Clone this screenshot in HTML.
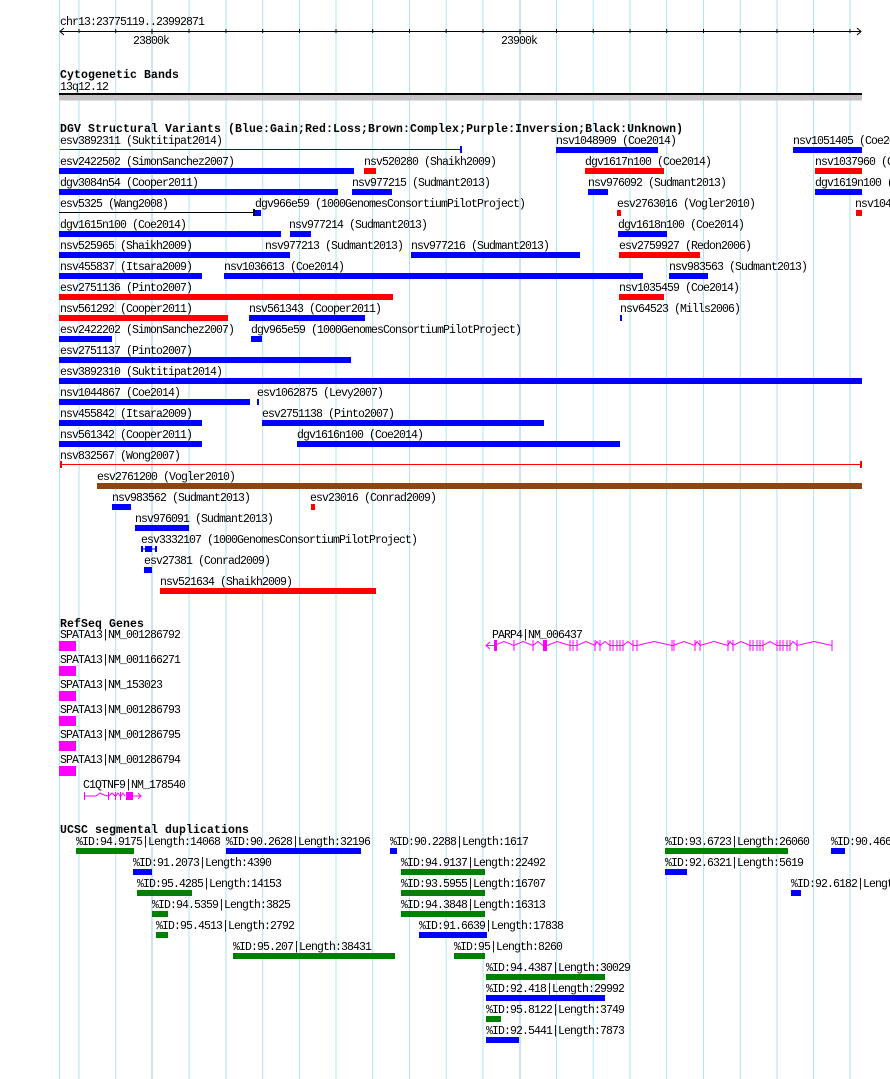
<!DOCTYPE html>
<html><head><meta charset="utf-8"><style>
html,body{margin:0;padding:0;background:#fff;width:890px;height:1079px;overflow:hidden}
svg{display:block}
text{font-family:"Liberation Mono",monospace;font-size:11.5px;letter-spacing:-0.9px;fill:#000}
text.h{font-weight:bold;font-size:11.5px;letter-spacing:0.1px}
</style></head><body>
<svg width="890" height="1079" xmlns="http://www.w3.org/2000/svg">
<g stroke="#aee6ee" stroke-width="1">
<line x1="59.5" y1="0" x2="59.5" y2="1079"/>
<line x1="79" y1="0" x2="79" y2="1079"/>
<line x1="115.7" y1="0" x2="115.7" y2="1079"/>
<line x1="189" y1="0" x2="189" y2="1079"/>
<line x1="226" y1="0" x2="226" y2="1079"/>
<line x1="262.7" y1="0" x2="262.7" y2="1079"/>
<line x1="299.5" y1="0" x2="299.5" y2="1079"/>
<line x1="336" y1="0" x2="336" y2="1079"/>
<line x1="372.7" y1="0" x2="372.7" y2="1079"/>
<line x1="409.5" y1="0" x2="409.5" y2="1079"/>
<line x1="446.2" y1="0" x2="446.2" y2="1079"/>
<line x1="483" y1="0" x2="483" y2="1079"/>
<line x1="556.5" y1="0" x2="556.5" y2="1079"/>
<line x1="593.2" y1="0" x2="593.2" y2="1079"/>
<line x1="630" y1="0" x2="630" y2="1079"/>
<line x1="666.7" y1="0" x2="666.7" y2="1079"/>
<line x1="703.5" y1="0" x2="703.5" y2="1079"/>
<line x1="740.2" y1="0" x2="740.2" y2="1079"/>
<line x1="777" y1="0" x2="777" y2="1079"/>
<line x1="813.5" y1="0" x2="813.5" y2="1079"/>
<line x1="850" y1="0" x2="850" y2="1079"/>
</g>
<g stroke="#9cc8e0" stroke-width="1">
<line x1="152" y1="0" x2="152" y2="1079"/>
<line x1="520" y1="0" x2="520" y2="1079"/>
</g>

<!-- ruler -->
<text x="60" y="25">chr13:23775119..23992871</text>
<g stroke="#000" stroke-width="1" fill="none">
<line x1="60" y1="31.5" x2="861" y2="31.5"/>
<polyline points="64,28 60,31.5 64,35"/>
<polyline points="857,28 861,31.5 857,35"/>
<path d="M79 29v4M115.7 29v4M152 29v5M189 29v4M226 29v4M262.7 29v4M299.5 29v4M336 29v4M372.7 29v4M409.5 29v4M446.2 29v4M483 29v4M520 29v5M556.5 29v4M593.2 29v4M630 29v4M666.7 29v4M703.5 29v4M740.2 29v4M777 29v4M813.5 29v4M850 29v4"/>
</g>
<text x="133" y="44">23800k</text>
<text x="501" y="44">23900k</text>

<!-- cyto -->
<text class="h" x="60" y="78">Cytogenetic Bands</text>
<text x="60" y="90">13q12.12</text>
<rect x="59" y="93" width="803" height="2" fill="#000"/>
<rect x="59" y="95" width="803" height="5.5" fill="#c4c2c4"/>

<!-- DGV -->
<text class="h" x="60" y="132">DGV Structural Variants (Blue:Gain;Red:Loss;Brown:Complex;Purple:Inversion;Black:Unknown)</text>
<g>
<text x="60" y="144">esv3892311 (Suktitipat2014)</text>
<line x1="60" y1="149.5" x2="461" y2="149.5" stroke="#00f"/><rect x="460" y="146" width="2" height="7" fill="#00f"/>
<text x="556" y="144">nsv1048909 (Coe2014)</text><rect x="556" y="147" width="102" height="6" fill="#00f"/>
<text x="793" y="144">nsv1051405 (Coe2014)</text><rect x="793" y="147" width="69" height="6" fill="#00f"/>

<text x="60" y="165">esv2422502 (SimonSanchez2007)</text><rect x="59" y="168" width="295" height="6" fill="#00f"/>
<text x="364" y="165">nsv520280 (Shaikh2009)</text><rect x="364" y="168" width="12" height="6" fill="#f00"/>
<text x="585" y="165">dgv1617n100 (Coe2014)</text><rect x="585" y="168" width="79" height="6" fill="#f00"/>
<text x="815" y="165">nsv1037960 (Coe2014)</text><rect x="815" y="168" width="47" height="6" fill="#f00"/>

<text x="60" y="186">dgv3084n54 (Cooper2011)</text><rect x="59" y="189" width="279" height="6" fill="#00f"/>
<text x="352" y="186">nsv977215 (Sudmant2013)</text><rect x="352" y="189" width="40" height="6" fill="#00f"/>
<text x="588" y="186">nsv976092 (Sudmant2013)</text><rect x="588" y="189" width="20" height="6" fill="#00f"/>
<text x="815" y="186">dgv1619n100 (Coe2014)</text><rect x="815" y="189" width="47" height="6" fill="#00f"/>

<text x="60" y="207">esv5325 (Wang2008)</text>
<line x1="59" y1="212.5" x2="254" y2="212.5" stroke="#000"/><rect x="253" y="209" width="2" height="7" fill="#000"/>
<text x="255" y="207">dgv966e59 (1000GenomesConsortiumPilotProject)</text><rect x="255" y="210" width="6" height="6" fill="#00f"/>
<text x="617" y="207">esv2763016 (Vogler2010)</text><rect x="617" y="210" width="4" height="6" fill="#f00"/>
<text x="855" y="207">nsv1048</text><rect x="856" y="210" width="6" height="6" fill="#f00"/>

<text x="60" y="228">dgv1615n100 (Coe2014)</text><rect x="59" y="231" width="222" height="6" fill="#00f"/>
<text x="289" y="228">nsv977214 (Sudmant2013)</text><rect x="290" y="231" width="21" height="6" fill="#00f"/>
<text x="618" y="228">dgv1618n100 (Coe2014)</text><rect x="618" y="231" width="49" height="6" fill="#00f"/>

<text x="60" y="249">nsv525965 (Shaikh2009)</text><rect x="59" y="252" width="231" height="6" fill="#00f"/>
<text x="265" y="249">nsv977213 (Sudmant2013)</text>
<text x="411" y="249">nsv977216 (Sudmant2013)</text><rect x="411" y="252" width="169" height="6" fill="#00f"/>
<text x="619" y="249">esv2759927 (Redon2006)</text><rect x="619" y="252" width="81" height="6" fill="#f00"/>

<text x="60" y="270">nsv455837 (Itsara2009)</text><rect x="59" y="273" width="143" height="6" fill="#00f"/>
<text x="224" y="270">nsv1036613 (Coe2014)</text><rect x="224" y="273" width="419" height="6" fill="#00f"/>
<text x="669" y="270">nsv983563 (Sudmant2013)</text><rect x="669" y="273" width="39" height="6" fill="#00f"/>

<text x="60" y="291">esv2751136 (Pinto2007)</text><rect x="59" y="294" width="334" height="6" fill="#f00"/>
<text x="619" y="291">nsv1035459 (Coe2014)</text><rect x="619" y="294" width="45" height="6" fill="#f00"/>

<text x="60" y="312">nsv561292 (Cooper2011)</text><rect x="59" y="315" width="169" height="6" fill="#f00"/>
<text x="249" y="312">nsv561343 (Cooper2011)</text><rect x="249" y="315" width="116" height="6" fill="#00f"/>
<text x="620" y="312">nsv64523 (Mills2006)</text><rect x="620" y="315" width="2" height="6" fill="#00f"/>

<text x="60" y="333">esv2422202 (SimonSanchez2007)</text><rect x="59" y="336" width="53" height="6" fill="#00f"/>
<text x="251" y="333">dgv965e59 (1000GenomesConsortiumPilotProject)</text><rect x="251" y="336" width="11" height="6" fill="#00f"/>

<text x="60" y="354">esv2751137 (Pinto2007)</text><rect x="59" y="357" width="292" height="6" fill="#00f"/>
<text x="60" y="375">esv3892310 (Suktitipat2014)</text><rect x="59" y="378" width="803" height="6" fill="#00f"/>

<text x="60" y="396">nsv1044867 (Coe2014)</text><rect x="59" y="399" width="191" height="6" fill="#00f"/>
<text x="257" y="396">esv1062875 (Levy2007)</text><rect x="257" y="399" width="2" height="6" fill="#00f"/>

<text x="60" y="417">nsv455842 (Itsara2009)</text><rect x="59" y="420" width="143" height="6" fill="#00f"/>
<text x="262" y="417">esv2751138 (Pinto2007)</text><rect x="262" y="420" width="282" height="6" fill="#00f"/>

<text x="60" y="438">nsv561342 (Cooper2011)</text><rect x="59" y="441" width="143" height="6" fill="#00f"/>
<text x="297" y="438">dgv1616n100 (Coe2014)</text><rect x="297" y="441" width="323" height="6" fill="#00f"/>

<text x="60" y="459">nsv832567 (Wong2007)</text>
<line x1="60" y1="464.5" x2="862" y2="464.5" stroke="#f00"/><rect x="60" y="461" width="2" height="7" fill="#f00"/><rect x="860" y="461" width="2" height="7" fill="#f00"/>

<text x="97" y="480">esv2761200 (Vogler2010)</text><rect x="97" y="483" width="765" height="6" fill="#8b4513"/>

<text x="112" y="501">nsv983562 (Sudmant2013)</text><rect x="112" y="504" width="19" height="6" fill="#00f"/>
<text x="310" y="501">esv23016 (Conrad2009)</text><rect x="311" y="504" width="4" height="6" fill="#f00"/>

<text x="135" y="522">nsv976091 (Sudmant2013)</text><rect x="135" y="525" width="54" height="6" fill="#00f"/>
<text x="141" y="543">esv3332107 (1000GenomesConsortiumPilotProject)</text>
<rect x="141" y="546" width="2" height="6" fill="#00f"/><rect x="145" y="546" width="7" height="6" fill="#00f"/><rect x="155" y="546" width="2" height="6" fill="#00f"/><line x1="141" y1="549" x2="157" y2="549" stroke="#00f"/>
<text x="144" y="564">esv27381 (Conrad2009)</text><rect x="144" y="567" width="8" height="6" fill="#00f"/>
<text x="160" y="585">nsv521634 (Shaikh2009)</text><rect x="160" y="588" width="216" height="6" fill="#f00"/>
</g>

<!-- RefSeq -->
<text class="h" x="60" y="627">RefSeq Genes</text>
<g>
<text x="60" y="638">SPATA13|NM_001286792</text><rect x="59" y="641" width="17" height="10" fill="#f0f"/>
<text x="60" y="663">SPATA13|NM_001166271</text><rect x="59" y="666" width="17" height="10" fill="#f0f"/>
<text x="60" y="688">SPATA13|NM_153023</text><rect x="59" y="691" width="17" height="10" fill="#f0f"/>
<text x="60" y="713">SPATA13|NM_001286793</text><rect x="59" y="716" width="17" height="10" fill="#f0f"/>
<text x="60" y="738">SPATA13|NM_001286795</text><rect x="59" y="741" width="17" height="10" fill="#f0f"/>
<text x="60" y="763">SPATA13|NM_001286794</text><rect x="59" y="766" width="17" height="10" fill="#f0f"/>
<text x="83" y="788">C1QTNF9|NM_178540</text>
</g>
<g stroke="#f0f" fill="none" stroke-width="1">
<path d="M84.5 792v8M84 796h12l4-3 4 2 4 1M108.5 792v8M109 796l3-3 3 3M115.5 792v8M116 796l2-3 2 3M120.5 792v8M121 796l2-3 2 3"/>
<rect x="126" y="792" width="7" height="8" fill="#f0f" stroke="none"/>
<path d="M133 796h8M138 793l3 3-3 3"/>
</g>
<text x="492" y="638">PARP4|NM_006437</text>
<g stroke="#f0f" fill="none">
<polyline points="486,645.5 494,645.5 504,641.5 514,645.5 523,641.5 533,645.5 538,641.5 543,645.5 547,645.5 557,641.5 570,645.5 577,645.5 586,641.5 595,645.5 597,641.5 600,645.5 605,641.5 610,645.5 623,645.5 628,641.5 633,645.5 637,645.5 654,641.5 672,645.5 673,645.5 684,641.5 695,645.5 697,641.5 700,645.5 714,641.5 728,645.5 730,641.5 733,645.5 741,641.5 750,645.5 763,645.5 770,641.5 777,645.5 790,645.5 793,641.5 797,645.5 814,641.5 832,645.5"/>
<polyline points="490,642 486,645.5 490,649"/>
<path d="M514 640v11M533 640v11M570 640v11M573 640v11M577 640v11M595 640v11M600 640v11M610 640v11M613 640v11M617 640v11M620 640v11M623 640v11M633 640v11M637 640v11M672 640v11M674 640v11M695 640v11M700 640v11M728 640v11M733 640v11M750 640v11M753 640v11M757 640v11M760 640v11M763 640v11M777 640v11M780 640v11M783 640v11M787 640v11M790 640v11M797 640v11M832 640v11"/>
</g>
<rect x="494" y="640" width="3" height="11" fill="#f0f"/>
<rect x="543" y="640" width="4" height="11" fill="#f0f"/>

<!-- UCSC segdups -->
<text class="h" x="60" y="833">UCSC segmental duplications</text>
<g>
<text x="76" y="845">%ID:94.9175|Length:14068</text><rect x="76" y="848" width="58" height="6" fill="#008000"/>
<text x="226" y="845">%ID:90.2628|Length:32196</text><rect x="226" y="848" width="135" height="6" fill="#00f"/>
<text x="390" y="845">%ID:90.2288|Length:1617</text><rect x="390" y="848" width="7" height="6" fill="#00f"/>
<text x="665" y="845">%ID:93.6723|Length:26060</text><rect x="665" y="848" width="123" height="6" fill="#008000"/>
<text x="831" y="845">%ID:90.4663</text><rect x="831" y="848" width="14" height="6" fill="#00f"/>

<text x="133" y="866">%ID:91.2073|Length:4390</text><rect x="133" y="869" width="19" height="6" fill="#00f"/>
<text x="401" y="866">%ID:94.9137|Length:22492</text><rect x="401" y="869" width="84" height="6" fill="#008000"/>
<text x="665" y="866">%ID:92.6321|Length:5619</text><rect x="665" y="869" width="22" height="6" fill="#00f"/>

<text x="137" y="887">%ID:95.4285|Length:14153</text><rect x="137" y="890" width="55" height="6" fill="#008000"/>
<text x="401" y="887">%ID:93.5955|Length:16707</text><rect x="401" y="890" width="84" height="6" fill="#008000"/>
<text x="791" y="887">%ID:92.6182|Length</text><rect x="791" y="890" width="10" height="6" fill="#00f"/>

<text x="152" y="908">%ID:94.5359|Length:3825</text><rect x="152" y="911" width="16" height="6" fill="#008000"/>
<text x="401" y="908">%ID:94.3848|Length:16313</text><rect x="401" y="911" width="84" height="6" fill="#008000"/>

<text x="156" y="929">%ID:95.4513|Length:2792</text><rect x="156" y="932" width="12" height="6" fill="#008000"/>
<text x="419" y="929">%ID:91.6639|Length:17838</text><rect x="419" y="932" width="68" height="6" fill="#00f"/>

<text x="233" y="950">%ID:95.207|Length:38431</text><rect x="233" y="953" width="162" height="6" fill="#008000"/>
<text x="454" y="950">%ID:95|Length:8260</text><rect x="454" y="953" width="31" height="6" fill="#008000"/>

<text x="486" y="971">%ID:94.4387|Length:30029</text><rect x="486" y="974" width="119" height="6" fill="#008000"/>
<text x="486" y="992">%ID:92.418|Length:29992</text><rect x="486" y="995" width="119" height="6" fill="#00f"/>
<text x="486" y="1013">%ID:95.8122|Length:3749</text><rect x="486" y="1016" width="15" height="6" fill="#008000"/>
<text x="486" y="1034">%ID:92.5441|Length:7873</text><rect x="486" y="1037" width="33" height="6" fill="#00f"/>
</g>
</svg>
</body></html>
